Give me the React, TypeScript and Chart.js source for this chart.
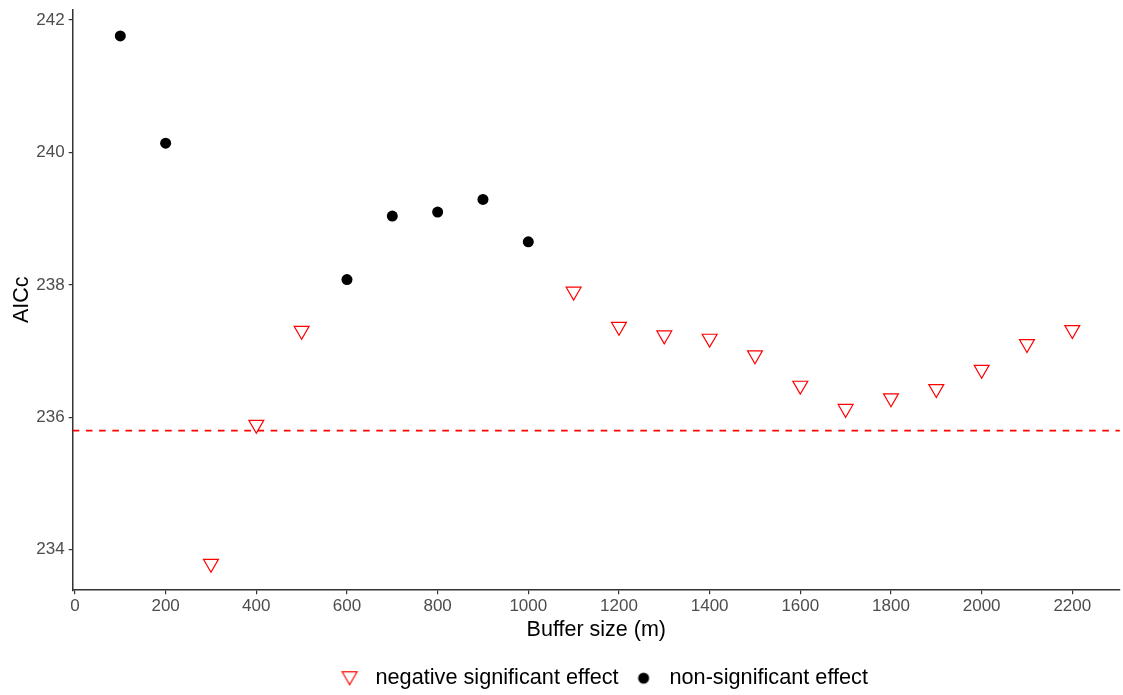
import React, { useEffect, useRef } from "react";
import { Chart, registerables } from "chart.js";

Chart.register(...registerables);

// ---- data ----
const nonSigX = [100, 200, 600, 700, 800, 900, 1000];
const nonSigY = [241.76, 240.14, 238.08, 239.04, 239.1, 239.29, 238.65];

const negSigX = [300, 400, 500, 1100, 1200, 1300, 1400, 1500, 1600, 1700, 1800, 1900, 2000, 2100, 2200];
const negSigY = [233.79, 235.89, 237.31, 237.9, 237.37, 237.24, 237.19, 236.94, 236.48, 236.13, 236.29, 236.43, 236.72, 237.11, 237.32];

const refLineY = 235.8;
const xRange = [-5, 2305];
const yRange = [233.39, 242.16];

const xTicks = [0, 200, 400, 600, 800, 1000, 1200, 1400, 1600, 1800, 2000, 2200];
const yTicks = [234, 236, 238, 240, 242];

const legendLabels = ["negative significant effect", "non-significant effect"];

const FONT = "'Liberation Sans', Arial, Helvetica, sans-serif";

function makeTriangleIcon(): HTMLCanvasElement {
  const c = document.createElement("canvas");
  c.width = 20;
  c.height = 20;
  const ctx = c.getContext("2d")!;
  const r = 8.6;
  const cx = 10, cy = 8;
  ctx.strokeStyle = "#ff0000";
  ctx.lineWidth = 1.2;
  ctx.beginPath();
  ctx.moveTo(cx - r * Math.sqrt(3) / 2, cy - r / 2);
  ctx.lineTo(cx + r * Math.sqrt(3) / 2, cy - r / 2);
  ctx.lineTo(cx, cy + r);
  ctx.closePath();
  ctx.stroke();
  return c;
}

function makeCircleIcon(): HTMLCanvasElement {
  const c = document.createElement("canvas");
  c.width = 14;
  c.height = 14;
  const ctx = c.getContext("2d")!;
  ctx.fillStyle = "#000000";
  ctx.beginPath();
  ctx.arc(7, 7, 5.5, 0, Math.PI * 2);
  ctx.fill();
  return c;
}

// shifts the legend block so it sits where the reference places it
const legendShift = {
  id: "legendShift",
  afterLayout(chart: any) {
    const lg = chart.legend;
    if (lg) {
      lg.left += 5;
      lg.right += 5;
    }
  },
};

export default function App() {
  const ref = useRef<HTMLCanvasElement | null>(null);

  useEffect(() => {
    if (!ref.current) return;
    const tri = makeTriangleIcon();
    const circ = makeCircleIcon();

    const chart = new Chart(ref.current, {
      type: "scatter",
      plugins: [legendShift],
      data: {
        datasets: [
          {
            label: legendLabels[0],
            data: negSigX.map((x, i) => ({ x, y: negSigY[i] })),
            pointStyle: "triangle",
            rotation: 180,
            pointRadius: 8.6,
            pointBorderWidth: 1.2,
            borderColor: "#ff0000",
            backgroundColor: "rgba(0,0,0,0)",
          },
          {
            label: legendLabels[1],
            data: nonSigX.map((x, i) => ({ x, y: nonSigY[i] })),
            pointStyle: "circle",
            pointRadius: 5.5,
            pointBorderWidth: 0,
            borderColor: "#000000",
            backgroundColor: "#000000",
          },
          {
            type: "line",
            label: "ref",
            data: [
              { x: xRange[0], y: refLineY },
              { x: xRange[1], y: refLineY },
            ],
            borderColor: "#ff0000",
            borderWidth: 1.6,
            borderDash: [6.6, 6.6],
            pointRadius: 0,
            fill: false,
          } as any,
        ],
      },
      options: {
        animation: false,
        responsive: false,
        devicePixelRatio: 1,
        layout: { autoPadding: false, padding: { left: 0, right: 3.1, top: 9.4, bottom: -4 } },
        plugins: {
          tooltip: { enabled: false },
          legend: {
            position: "bottom",
            fullSize: false,
            labels: {
              usePointStyle: true,
              pointStyleWidth: 30,
              padding: 10,
              color: "#000000",
              font: { family: FONT, size: 21.7 },
              generateLabels: () => [
                {
                  text: legendLabels[0],
                  pointStyle: tri,
                  fillStyle: "rgba(0,0,0,0)",
                  strokeStyle: "rgba(0,0,0,0)",
                  lineWidth: 0,
                  hidden: false,
                  datasetIndex: 0,
                  fontColor: "#000000",
                } as any,
                {
                  text: legendLabels[1],
                  pointStyle: circ,
                  fillStyle: "rgba(0,0,0,0)",
                  strokeStyle: "rgba(0,0,0,0)",
                  lineWidth: 0,
                  hidden: false,
                  datasetIndex: 1,
                  fontColor: "#000000",
                } as any,
              ],
            },
          },
        },
        scales: {
          x: {
            type: "linear",
            min: xRange[0],
            max: xRange[1],
            afterBuildTicks: (s: any) => {
              s.ticks = xTicks.map((v) => ({ value: v }));
            },
            afterFit: (s: any) => {
              s.height = 67.1;
              s.paddingLeft = 0;
              s.paddingRight = 0;
            },
            grid: {
              display: true,
              drawOnChartArea: false,
              drawTicks: true,
              tickLength: 4,
              color: "#333333",
              lineWidth: 1.2,
            },
            border: { display: true, color: "#333333", width: 1.5 },
            ticks: {
              autoSkip: false,
              maxRotation: 0,
              padding: 2,
              color: "#4d4d4d",
              font: { family: FONT, size: 17 },
              callback: (v: any) => String(v),
            },
            title: {
              display: true,
              text: "Buffer size (m)",
              color: "#000000",
              font: { family: FONT, size: 21.5 },
              padding: { top: 0, bottom: 14.4 },
            },
          },
          y: {
            type: "linear",
            min: yRange[0],
            max: yRange[1],
            afterBuildTicks: (s: any) => {
              s.ticks = yTicks.map((v) => ({ value: v }));
            },
            afterFit: (s: any) => {
              s.width = 72.7;
              s.paddingTop = 0;
              s.paddingBottom = 0;
            },
            grid: {
              display: true,
              drawOnChartArea: false,
              drawTicks: true,
              tickLength: 4,
              color: "#333333",
              lineWidth: 1.2,
            },
            border: { display: true, color: "#333333", width: 1.5 },
            ticks: {
              padding: 4,
              color: "#4d4d4d",
              font: { family: FONT, size: 17 },
              callback: (v: any) => String(v),
            },
            title: {
              display: true,
              text: "AICc",
              color: "#000000",
              font: { family: FONT, size: 21.5 },
              padding: { top: 9, bottom: 0 },
            },
          },
        },
      },
    });
    return () => chart.destroy();
  }, []);

  return (
    <div style={{ position: "absolute", left: 0, top: 0, width: 1123, height: 695, background: "#fff" }}>
      <canvas ref={ref} width={1123} height={695} />
    </div>
  );
}
